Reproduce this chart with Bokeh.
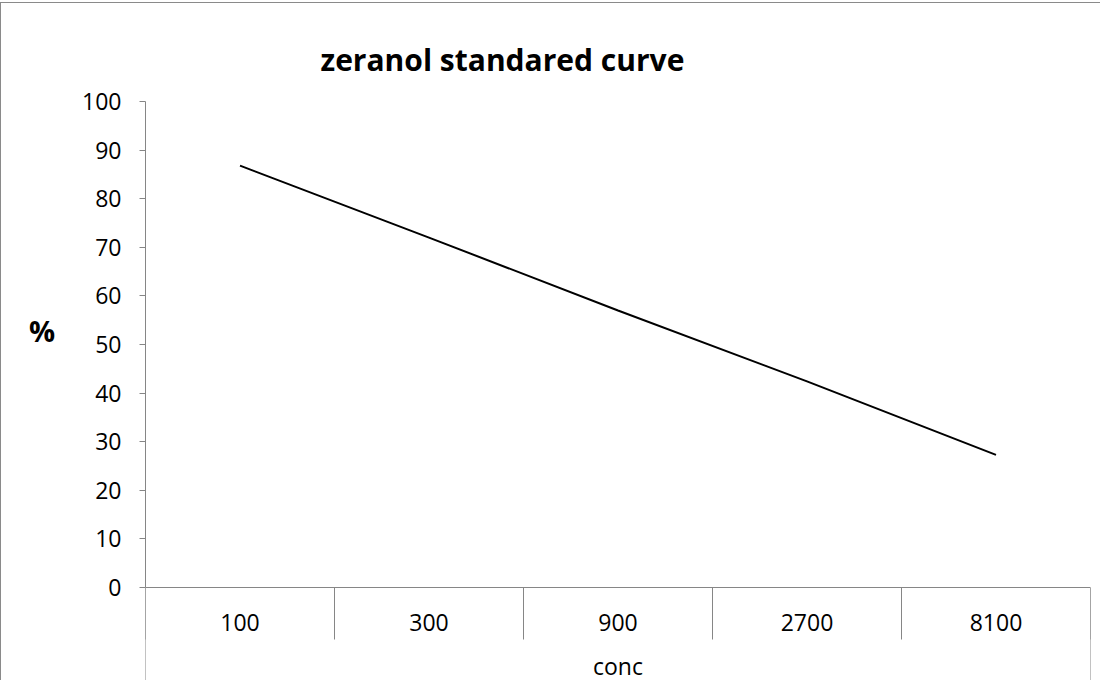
from bokeh.plotting import figure
from bokeh.models import FactorRange, Range1d, LinearAxis, CategoricalAxis, FixedTicker, Title
from bokeh.embed import file_html
from bokeh.resources import INLINE

# ---- data ----
categories = ["100", "300", "900", "2700", "8100"]
percent = [86.8, 72.0, 57.0, 42.4, 27.3]
y_ticks = [0, 10, 20, 30, 40, 50, 60, 70, 80, 90, 100]
title_text = "zeranol standared curve"
x_label = "conc"
y_label = "%"

# ---- style ----
FONT = "Open Sans"
AXIS_COLOR = "#868686"
Y_BELOW = -19.14   # frame extends below zero to draw the category "table" lines

x_range = FactorRange(*categories)
p = figure(width=1100, height=678,
           x_range=x_range,
           y_range=Range1d(Y_BELOW, 100),
           x_axis_type=None, y_axis_type=None, title=None,
           output_backend="svg", toolbar_location=None,
           min_border_left=145, min_border_right=10,
           min_border_top=99, min_border_bottom=0)
p.background_fill_color = "white"
p.border_fill_color = None
p.outline_line_color = None
p.styles = {"margin-top": "2px", "box-shadow": "inset 1px 1px 0 #8a8a8a"}

# y axis (label lifted to sit beside the 0..100 part of the axis)
yax = LinearAxis(ticker=FixedTicker(ticks=y_ticks), bounds=(0, 100),
                 axis_label=y_label + "\n\n\n", axis_label_orientation="horizontal",
                 axis_label_text_font=FONT, axis_label_text_font_size="29px",
                 axis_label_text_font_style="bold", axis_label_text_color="black",
                 axis_label_text_line_height=1.04,
                 axis_label_standoff=24,
                 major_label_text_font=FONT, major_label_text_font_size="23px",
                 major_label_text_color="black", major_label_standoff=18,
                 major_tick_out=6, major_tick_in=0,
                 axis_line_color=AXIS_COLOR, major_tick_line_color=AXIS_COLOR,
                 minor_tick_line_color=None)
p.add_layout(yax, "left")

# category labels
cax = CategoricalAxis(fixed_location=0, axis_label=x_label,
                      axis_label_text_font=FONT, axis_label_text_font_size="23px",
                      axis_label_text_font_style="normal", axis_label_text_color="black",
                      axis_label_standoff=15,
                      major_label_text_font=FONT, major_label_text_font_size="23px",
                      major_label_text_color="black", major_label_standoff=27,
                      major_tick_out=0, major_tick_in=0, major_tick_line_color=None,
                      axis_line_color=None)
p.add_layout(cax, "below")

# category boundary ticks + axis line (synthetic coordinates of the factor range: 0..N)
n = len(categories)
bax = LinearAxis(fixed_location=0,
                 ticker=FixedTicker(ticks=list(range(n + 1))),
                 major_tick_out=52, major_tick_in=0,
                 major_label_text_color=None,
                 axis_line_color=AXIS_COLOR, major_tick_line_color=AXIS_COLOR,
                 minor_tick_line_color=None)
p.add_layout(bax, "below")

# vertical table edges below the axis
for loc, side in [(0, "left"), (n, "right")]:
    ax = LinearAxis(fixed_location=loc, bounds=(Y_BELOW, 0),
                    ticker=FixedTicker(ticks=[]), major_label_text_color=None,
                    axis_line_color=AXIS_COLOR, minor_tick_line_color=None,
                    major_tick_line_color=None)
    p.add_layout(ax, side)

title = Title(text=title_text, align="left", offset=175,
              text_font=FONT, text_font_size="30px", text_font_style="bold",
              text_color="black")
if "standoff" in Title.properties():
    title.standoff = 43
p.add_layout(title, "above")

p.line(x=categories, y=percent, line_color="black", line_width=2)

open("out.html", "w").write(file_html(p, INLINE))
